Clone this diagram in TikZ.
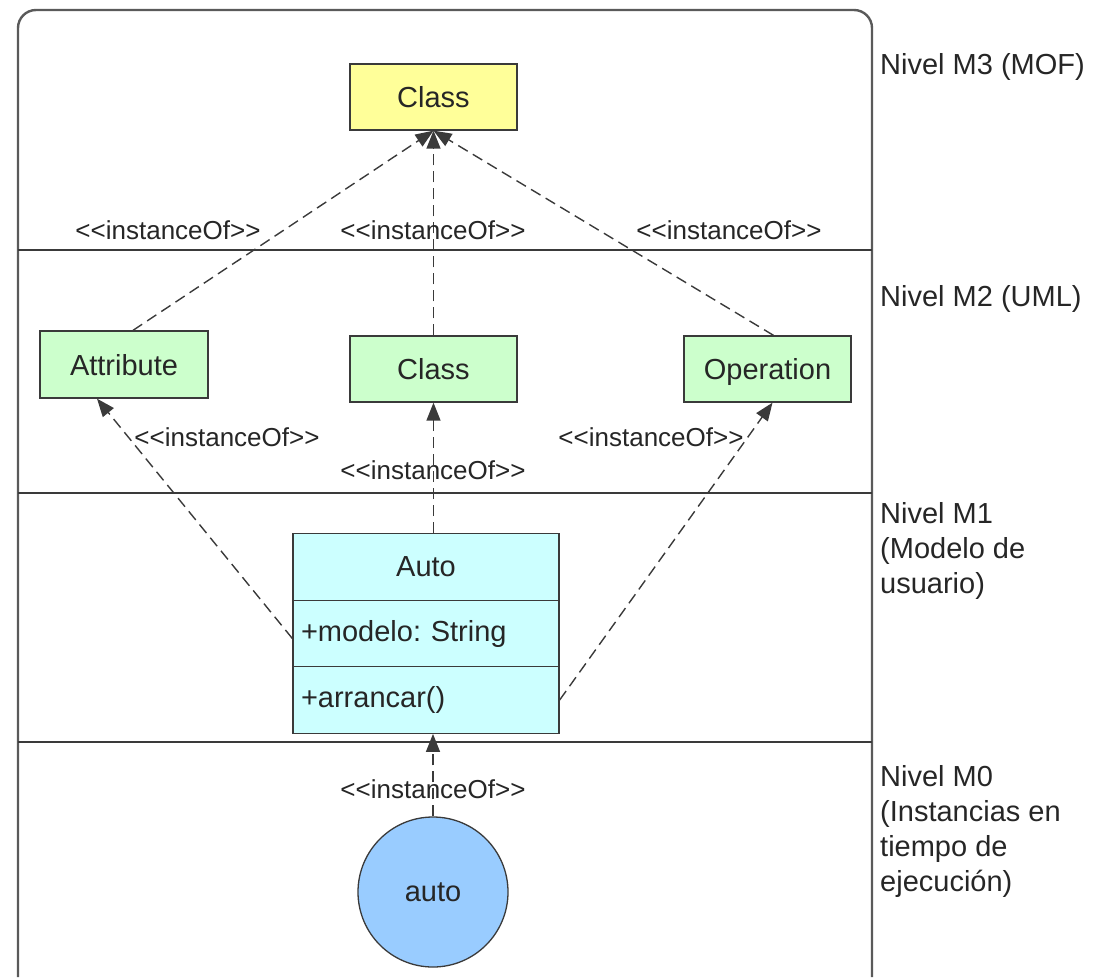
\documentclass[tikz,border=0pt]{standalone}
\usepackage{fontspec}
\setmainfont{Liberation Sans}
\usetikzlibrary{arrows.meta,calc}
\definecolor{cthree}{HTML}{FFFF99}
\definecolor{ctwo}{HTML}{CCFFCC}
\definecolor{cone}{HTML}{CCFFFF}
\definecolor{czero}{HTML}{99CCFF}
\definecolor{edge}{HTML}{3A3A3A}
\definecolor{frame}{HTML}{5A5A5A}
\definecolor{txt}{HTML}{262626}
\frenchspacing
\begin{document}
\begin{tikzpicture}[x=1pt,y=-1pt,
  box/.style={draw=edge,line width=1.3pt,minimum width=167pt,minimum height=66pt,inner sep=0pt,
    text height=22pt,text depth=1pt,font=\fontsize{29}{35}\selectfont,text=txt},
  abox/.style={draw=edge,line width=1.3pt,text width=250pt,inner xsep=8pt,inner ysep=0pt,
    minimum height=66.5pt,align=left,font=\fontsize{29}{35}\selectfont,text=txt,fill=cone},
  lbl/.style={font=\fontsize{26}{30}\selectfont,text=txt,inner sep=0pt},
  lvl/.style={font=\fontsize{29}{35}\selectfont,text=txt,inner sep=0pt,anchor=north west,align=left},
  inst/.style={dash pattern=on 11pt off 6pt,line width=1.4pt,draw=edge,-{Triangle[length=18pt,width=14pt]}},
  sep/.style={draw=edge,line width=1.3pt}]
\useasboundingbox (0,0) rectangle (1110,977);
% outer frame
\draw[frame,line width=2.4pt,rounded corners=18pt] (18,977) -- (18,10) -- (872,10) -- (872,977);
% level separators
\coordinate (l1a) at (18,250); \coordinate (l1b) at (872,250);
\coordinate (l2a) at (18,493); \coordinate (l2b) at (872,493);
\coordinate (l3a) at (18,742); \coordinate (l3b) at (872,742);
\draw[sep] (l1a) -- (l1b);
\draw[sep] (l2a) -- (l2b);
\draw[sep] (l3a) -- (l3b);
% nodes
\node[box,fill=cthree] (cls3) at (433.5,97) {Class};
\node[box,fill=ctwo,minimum width=168pt,minimum height=67pt] (attr) at (124,364.5) {Attribute};
\node[box,fill=ctwo] (cls2) at (433.5,369) {Class};
\node[box,fill=ctwo] (oper) at (767.5,369) {Operation};
\node[abox,align=center] (auto1) at (426,567) {Auto};
\node[abox] (auto2) at (426,633.5) {+modelo: String};
\node[abox] (auto3) at (426,700) {+arrancar()};
\node[circle,draw=edge,line width=1.3pt,fill=czero,minimum size=150pt,inner sep=0pt,
  font=\fontsize{29}{35}\selectfont,text=txt] (obj) at (433,892) {auto};
% connectors
\draw[inst] ([xshift=9pt]attr.north) -- (cls3.south);
\draw[inst] (cls2.north) -- (cls3.south);
\draw[inst] ([xshift=6pt]oper.north) -- (cls3.south);
\draw[inst] ([yshift=-5pt]auto2.west) -- ([xshift=-27pt]attr.south);
\draw[inst] (auto1.north -| cls2.south) -- (cls2.south);
\draw[inst] (auto3.east) -- ([xshift=5pt]oper.south);
\draw[inst] (obj.north) -- (auto3.south -| obj.north);
% labels
\node[lbl] (t1) at (168,230) {<{}<instanceOf>{}>};
\node[lbl] (t2) at (433,230) {<{}<instanceOf>{}>};
\node[lbl] (t3) at (729,230) {<{}<instanceOf>{}>};
\node[lbl] (t4) at (227,437) {<{}<instanceOf>{}>};
\node[lbl] (t5) at (433,470) {<{}<instanceOf>{}>};
\node[lbl] (t6) at (651,437) {<{}<instanceOf>{}>};
\node[lbl] (t7) at (433,789) {<{}<instanceOf>{}>};
% level texts
\node[lvl] (m3) at (880,53) {Nivel M3 (MOF)};
\node[lvl] (m2) at (880,285) {Nivel M2 (UML)};
\node[lvl] (m1) at (880,502) {Nivel M1\\(Modelo de\\usuario)};
\node[lvl] (m0) at (880,765) {Nivel M0\\(Instancias en\\tiempo de\\ejecución)};
\end{tikzpicture}
\end{document}
